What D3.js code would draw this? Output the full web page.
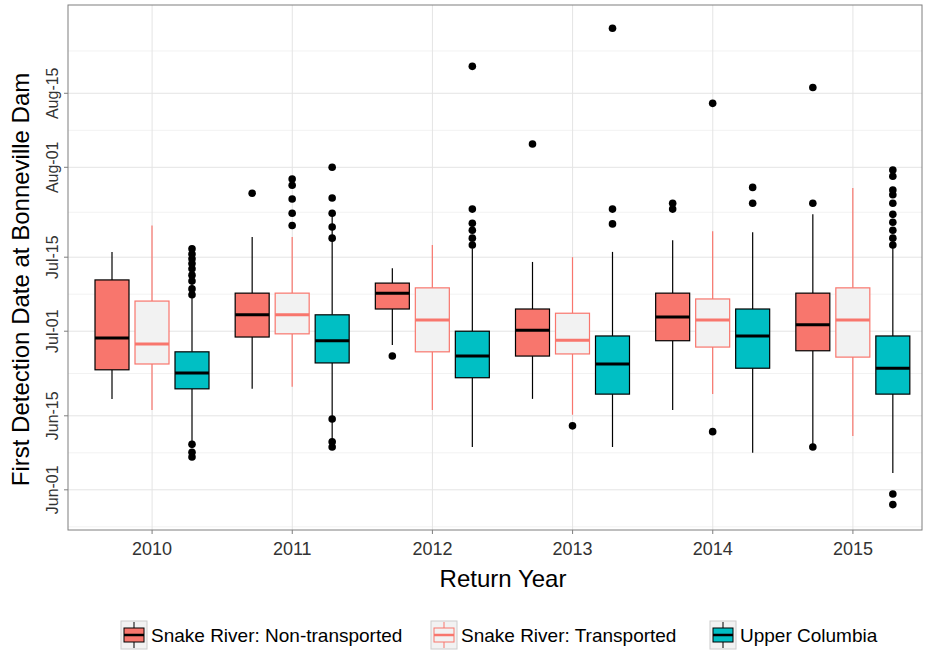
<!DOCTYPE html>
<html><head><meta charset="utf-8">
<script src="https://cdn.jsdelivr.net/npm/d3@7"></script>
<style>body{margin:0;background:#fff}text{font-family:Arial,"Liberation Sans",sans-serif}</style>
</head><body><svg id="c" width="930" height="655"></svg>
<script>
// days after Jun-01
const years = ['2010','2011','2012','2013','2014','2015'];
const groups = ['Snake River: Non-transported','Snake River: Transported','Upper Columbia'];
const tickDays = [0,14,30,44,61,75];
const tickLabels = ['Jun-01','Jun-15','Jul-01','Jul-15','Aug-01','Aug-15'];
// [low whisker, q1, median, q3, high whisker]
const nonTransported = [[17.2,22.7,28.7,39.7,45],[19.1,28.9,33.1,37.2,47.8],[27.4,34.2,37.2,39.1,41.9],[17.2,25.3,30.2,34.2,43.1],[15.1,28.2,32.7,37.2,47.2],[8.1,26.3,31.2,37.2,52.1]];
const transported = [[15.1,23.8,27.6,35.7,50],[19.5,29.5,33.1,37.2,47.8],[15.1,26.1,32.1,38.2,46.3],[14.2,25.7,28.3,33.4,44],[18.1,27,32.1,36.1,48.9],[10.2,25.1,32.1,38.2,57.1]];
const upperColumbia = [[8.1,19.1,22.1,26.1,45],[9.4,24,28.2,33.1,52],[8.1,21.2,25.3,30,45.7],[8.1,18.1,23.8,29.1,45],[7,23,29.1,34.2,48.7],[3.2,18.1,23,29.1,46.1]];
const outNT = [[],[56.1],[25.3],[65.4],[54.2,53.1],[76.1,54.2,8.1]];
const outT = [[],[58.8,57.6,55,52.3,50],[],[12.1],[73.1,11],[]];
const outUC = [[45.6,44.6,43.7,42.8,41.8,40.6,39.5,38,36.9,8.6,7.1,6.2],[61,55.2,52.3,49.7,47.6,13.4,9.1,8.1],[80.1,53.1,50.4,49.1,47.6,46.3],[87.3,53.1,50.3],[57.2,54.2],[60.5,59.3,56.7,55.8,54.2,52.1,50.6,49.1,47.6,46.3,-0.8,-2.8]];

const stats=[nonTransported,transported,upperColumbia], outs=[outNT,outT,outUC];
const fills=['#F8766D','#F2F2F2','#00BFC4'], strokes=['#000','#F8766D','#000'];
const svg=d3.select('#c');
const L=68,R=922,T=5,B=530;
const y=d3.scaleLinear().domain([-7.6,91.7]).range([B,T]);
const x=d3.scaleBand().domain(years).range([82,923]);
const g=d3.scaleBand().domain(d3.range(3)).range([13,127]).paddingInner(0.15);
const cx=y0=>x(y0)+x.bandwidth()/2;
// minor grid
const minor=tickDays.slice(0,-1).map((d,i)=>(d+tickDays[i+1])/2).concat([-7,83]);
svg.append('g').selectAll('line').data(minor).join('line').attr('x1',L).attr('x2',R).attr('y1',d=>y(d)).attr('y2',d=>y(d)).attr('stroke','#f2f2f2');
svg.append('g').selectAll('line').data(tickDays).join('line').attr('x1',L).attr('x2',R).attr('y1',d=>y(d)).attr('y2',d=>y(d)).attr('stroke','#e4e4e4');
svg.append('g').selectAll('line').data(years).join('line').attr('y1',T).attr('y2',B).attr('x1',cx).attr('x2',cx).attr('stroke','#e4e4e4');
svg.append('rect').attr('x',L).attr('y',T).attr('width',R-L).attr('height',B-T).attr('fill','none').attr('stroke','#7f7f7f');
years.forEach((yr,i)=>{
  for(let k=0;k<3;k++){
    const s=stats[k][i], w=g.bandwidth(), x0=x(yr)+g(k), m=x0+w/2;
    const gg=svg.append('g');
    gg.append('line').attr('x1',m).attr('x2',m).attr('y1',y(s[0])).attr('y2',y(s[1])).attr('stroke',strokes[k]).attr('stroke-width',1.2);
    gg.append('line').attr('x1',m).attr('x2',m).attr('y1',y(s[3])).attr('y2',y(s[4])).attr('stroke',strokes[k]).attr('stroke-width',1.2);
    gg.append('rect').attr('x',x0).attr('width',w).attr('y',y(s[3])).attr('height',y(s[1])-y(s[3])).attr('fill',fills[k]).attr('stroke',strokes[k]).attr('stroke-width',1.2);
    gg.append('line').attr('x1',x0).attr('x2',x0+w).attr('y1',y(s[2])).attr('y2',y(s[2])).attr('stroke',strokes[k]).attr('stroke-width',3);
    gg.selectAll('circle').data(outs[k][i]).join('circle').attr('cx',m).attr('cy',d=>y(d)).attr('r',3.8).attr('fill','#000');
  }
});
// axes
const ya=svg.append('g');
tickDays.forEach((d,i)=>{
  ya.append('line').attr('x1',L-4).attr('x2',L).attr('y1',y(d)).attr('y2',y(d)).attr('stroke','#7f7f7f');
  ya.append('text').attr('transform',`translate(${L-10},${y(d)}) rotate(-90)`).attr('text-anchor','middle').attr('font-size',16).attr('fill','#333').text(tickLabels[i]);
});
years.forEach(yr=>{
  svg.append('line').attr('x1',cx(yr)).attr('x2',cx(yr)).attr('y1',B).attr('y2',B+4).attr('stroke','#7f7f7f');
  svg.append('text').attr('x',cx(yr)).attr('y',B+25).attr('text-anchor','middle').attr('font-size',18).attr('fill','#333').text(yr);
});
svg.append('text').attr('x',(L+R)/2+8).attr('y',587).attr('text-anchor','middle').attr('font-size',24).text('Return Year');
svg.append('text').attr('transform',`translate(29,${(T+B)/2+12}) rotate(-90)`).attr('text-anchor','middle').attr('font-size',24).text('First Detection Date at Bonneville Dam');
// legend
const lx=[121,431,710];
groups.forEach((name,k)=>{
  const lg=svg.append('g').attr('transform',`translate(${lx[k]},621)`);
  lg.append('rect').attr('width',26).attr('height',28).attr('fill','#f2f2f2').attr('stroke','#ccc');
  lg.append('line').attr('x1',13).attr('x2',13).attr('y1',1).attr('y2',27).attr('stroke',strokes[k]);
  lg.append('rect').attr('x',3).attr('y',7).attr('width',20).attr('height',14).attr('fill',fills[k]).attr('stroke',strokes[k]);
  lg.append('line').attr('x1',3).attr('x2',23).attr('y1',14).attr('y2',14).attr('stroke',strokes[k]).attr('stroke-width',2.5);
  lg.append('text').attr('x',30).attr('y',21).attr('font-size',19).text(name);
});
</script></body></html>
